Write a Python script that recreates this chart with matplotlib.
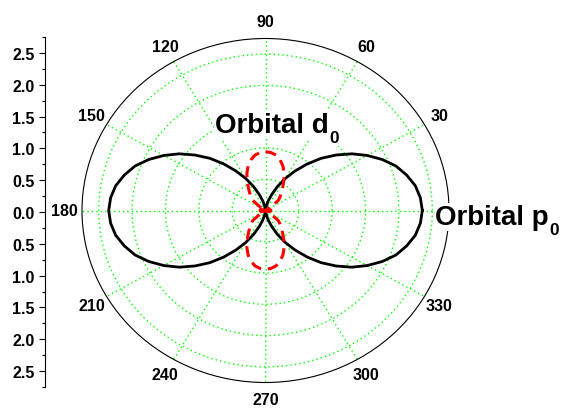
import numpy as np
import matplotlib
matplotlib.use("Agg")
import matplotlib.pyplot as plt
from matplotlib.ticker import FixedLocator, MultipleLocator, FuncFormatter

plt.rcParams['font.family'] = ['Liberation Sans', 'DejaVu Sans']
plt.rcParams['font.weight'] = 'bold'

# ---- data ----
theta_deg = list(range(0, 361, 5))

p0_r = [2.35, 2.33, 2.28, 2.19, 2.08, 1.93, 1.76, 1.58, 1.38, 1.18, 0.97, 0.77, 0.59, 0.42, 0.27, 0.16, 0.07, 0.02, 0.00,
        0.02, 0.07, 0.16, 0.27, 0.42, 0.59, 0.77, 0.97, 1.18, 1.38, 1.58, 1.76, 1.93, 2.08, 2.19, 2.28, 2.33, 2.35,
        2.33, 2.28, 2.19, 2.08, 1.93, 1.76, 1.58, 1.38, 1.18, 0.97, 0.77, 0.59, 0.42, 0.27, 0.16, 0.07, 0.02, 0.00,
        0.02, 0.07, 0.16, 0.27, 0.42, 0.59, 0.77, 0.97, 1.18, 1.38, 1.58, 1.76, 1.93, 2.08, 2.19, 2.28, 2.33, 2.35]

d0_r = [0.08, 0.08, 0.07, 0.06, 0.04, 0.02, 0.00, 0.10, 0.25, 0.31, 0.37, 0.45, 0.55, 0.66, 0.76, 0.84, 0.90, 0.93, 0.94,
        0.93, 0.90, 0.84, 0.76, 0.66, 0.55, 0.45, 0.37, 0.31, 0.25, 0.10, 0.00, 0.02, 0.04, 0.06, 0.07, 0.08, 0.08,
        0.08, 0.07, 0.06, 0.04, 0.02, 0.00, 0.10, 0.25, 0.31, 0.37, 0.45, 0.55, 0.66, 0.76, 0.84, 0.90, 0.93, 0.94,
        0.93, 0.90, 0.84, 0.76, 0.66, 0.55, 0.45, 0.37, 0.31, 0.25, 0.10, 0.00, 0.02, 0.04, 0.06, 0.07, 0.08, 0.08]

theta_ticks = list(range(0, 360, 30))
theta_labels = ['', '30', '60', '90', '120', '150', '180', '210', '240', '270', '300', '330']
r_grid = [0.5, 1.0, 1.5, 2.0, 2.5]
r_max = 2.75
left_ticks = [-2.5, -2.0, -1.5, -1.0, -0.5, 0.0, 0.5, 1.0, 1.5, 2.0, 2.5]

W, H = 564, 410
fig = plt.figure(figsize=(W / 100, H / 100), dpi=100)

# polar axes (slightly elliptical like the reference)
cx, cy, rx, ry = 265.5, 211.5, 183.5, 172.0
ax = fig.add_axes([(cx - rx) / W, (H - cy - ry) / H, 2 * rx / W, 2 * ry / H], projection='polar')
ax.set_aspect('auto')
ax.set_rlim(0, r_max)

th = np.deg2rad(theta_deg)
ax.plot(th, p0_r, color='black', lw=2.0, zorder=3)
ax.plot(th, d0_r, color='red', lw=2.2, linestyle=(0, (3.6, 2.2)), zorder=4)

ax.set_rticks(r_grid)
ax.set_yticklabels([])
ax.tick_params(axis='y', length=0)
ax.set_thetagrids(theta_ticks, theta_labels)
ax.xaxis.set_minor_locator(FixedLocator(np.deg2rad(np.arange(15, 360, 30))))
ax.tick_params(axis='x', which='major', direction='in', length=4.5, width=0.8, pad=5.5,
               labelsize=11.5)
ax.tick_params(axis='x', which='minor', direction='in', length=2.5, width=0.8)
ax.grid(True, color='#00ff00', linestyle=(0, (1, 2.2)), linewidth=1.0)
ax.spines['polar'].set_linewidth(0.8)
for lab in ax.get_xticklabels():
    lab.set_fontweight('bold')

# left linear radial scale
axl = fig.add_axes([45 / W, (H - 388) / H, 0.0001, 350 / H])
axl.set_ylim(-r_max, r_max)
axl.set_xticks([])
for s in ['top', 'right', 'bottom']:
    axl.spines[s].set_visible(False)
axl.spines['left'].set_linewidth(0.8)
axl.yaxis.set_major_locator(FixedLocator(left_ticks))
axl.yaxis.set_minor_locator(MultipleLocator(0.25))
axl.yaxis.set_major_formatter(FuncFormatter(lambda v, p: f"{abs(v):.1f}"))
axl.tick_params(axis='y', which='major', direction='out', length=4.5, width=0.8, pad=3, labelsize=11.5)
axl.tick_params(axis='y', which='minor', direction='out', length=2.5, width=0.8)
for lab in axl.get_yticklabels():
    lab.set_fontweight('bold')

# labels with lowered subscripts
box = dict(facecolor='white', edgecolor='none', pad=1.0)
renderer = fig.canvas.get_renderer()


def label(x_px, base_px, main, sub):
    t = fig.text(x_px / W, (H - base_px) / H, main, fontsize=20, fontweight='bold',
                 ha='left', va='baseline', bbox=box, zorder=10)
    ext = t.get_window_extent(renderer=renderer)
    fig.text((ext.x1 + 1) / W, (H - base_px - 10) / H, sub, fontsize=12.5, fontweight='bold',
             ha='left', va='baseline', bbox=dict(facecolor='white', edgecolor='none', pad=0.5),
             zorder=10)


label(215, 133, 'Orbital d', '0')
label(435, 225, 'Orbital p', '0')

fig.savefig('out.png', dpi=100)
